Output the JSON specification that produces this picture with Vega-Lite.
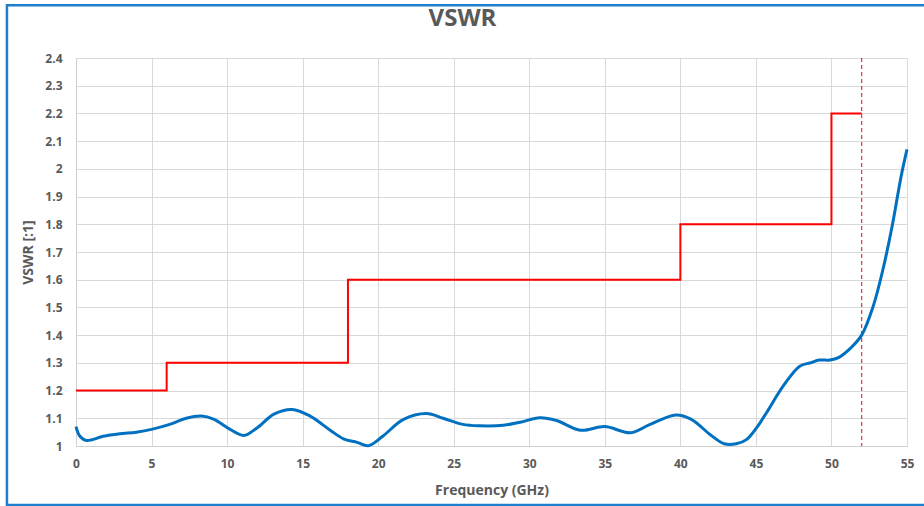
{
  "$schema": "https://vega.github.io/schema/vega-lite/v6.json",
  "autosize": "none",
  "width": 831,
  "height": 388,
  "padding": {"left": 76, "top": 58, "right": 17, "bottom": 60},
  "background": "white",
  "title": {"text": "VSWR", "fontSize": 24, "font": "Open Sans", "fontWeight": "bold", "color": "#595959", "anchor": "middle", "dx": -29, "offset": -27},
  "config": {
    "view": {"stroke": null},
    "axis": {"labelFont": "Open Sans", "labelFontWeight": "bold", "labelColor": "#595959", "labelFontSize": 12, "titleFont": "Open Sans", "titleFontWeight": "bold", "titleColor": "#595959", "titleFontSize": 14, "gridColor": "#d9d9d9", "gridWidth": 1, "domainColor": "#d0d0d0", "ticks": false, "labelOverlap": false, "labelFlush": false}
  },
  "datasets": {
    "measured": [
      {"f": 0, "v": 1.07}, {"f": 0.26, "v": 1.035}, {"f": 0.7, "v": 1.02}, {"f": 1.8, "v": 1.035}, {"f": 2.9, "v": 1.044},
      {"f": 4.0, "v": 1.05}, {"f": 5.0, "v": 1.06}, {"f": 6.2, "v": 1.078}, {"f": 7.3, "v": 1.1}, {"f": 8.3, "v": 1.108},
      {"f": 9.1, "v": 1.097}, {"f": 10.2, "v": 1.06}, {"f": 11.1, "v": 1.038}, {"f": 12.0, "v": 1.066}, {"f": 13.1, "v": 1.115},
      {"f": 14.3, "v": 1.132}, {"f": 15.5, "v": 1.108}, {"f": 16.8, "v": 1.058}, {"f": 17.7, "v": 1.026}, {"f": 18.6, "v": 1.013},
      {"f": 19.35, "v": 1.001}, {"f": 20.3, "v": 1.035}, {"f": 21.65, "v": 1.095}, {"f": 23.2, "v": 1.117}, {"f": 24.3, "v": 1.1},
      {"f": 25.6, "v": 1.078}, {"f": 26.7, "v": 1.073}, {"f": 28.3, "v": 1.075}, {"f": 29.4, "v": 1.086}, {"f": 30.7, "v": 1.102},
      {"f": 31.8, "v": 1.092}, {"f": 33.4, "v": 1.057}, {"f": 35.0, "v": 1.07}, {"f": 36.7, "v": 1.048}, {"f": 38.0, "v": 1.078},
      {"f": 39.7, "v": 1.112}, {"f": 40.7, "v": 1.097}, {"f": 42.0, "v": 1.04}, {"f": 42.9, "v": 1.008}, {"f": 43.7, "v": 1.008},
      {"f": 44.4, "v": 1.024}, {"f": 45.05, "v": 1.066}, {"f": 45.7, "v": 1.12}, {"f": 46.8, "v": 1.216}, {"f": 47.9, "v": 1.288},
      {"f": 48.6, "v": 1.3}, {"f": 49.2, "v": 1.31}, {"f": 49.9, "v": 1.31}, {"f": 50.5, "v": 1.32}, {"f": 51.3, "v": 1.355},
      {"f": 52.0, "v": 1.4}, {"f": 52.75, "v": 1.502}, {"f": 53.4, "v": 1.635}, {"f": 54.05, "v": 1.803}, {"f": 54.6, "v": 1.97},
      {"f": 55.0, "v": 2.07}
    ],
    "limit": [
      {"f": 0, "v": 1.2}, {"f": 6, "v": 1.3}, {"f": 18, "v": 1.6}, {"f": 40, "v": 1.8}, {"f": 50, "v": 2.2}, {"f": 52, "v": 2.2}
    ],
    "marker": [{"f": 52}]
  },
  "layer": [
    {
      "data": {"name": "limit"},
      "mark": {"type": "line", "interpolate": "step-after", "color": "#ff0000", "strokeWidth": 2},
      "encoding": {
        "x": {"field": "f", "type": "quantitative", "scale": {"domain": [0, 55], "nice": false}, "axis": {"values": [0,5,10,15,20,25,30,35,40,45,50,55], "tickCount": 40, "title": "Frequency (GHz)", "labelPadding": 12, "titlePadding": 14}},
        "y": {"field": "v", "type": "quantitative", "scale": {"domain": [1, 2.4], "nice": false, "zero": false}, "axis": {"values": [1,1.1,1.2,1.3,1.4,1.5,1.6,1.7,1.8,1.9,2,2.1,2.2,2.3,2.4], "tickCount": 40, "format": ".2~f", "title": "VSWR [:1]", "labelPadding": 14, "titlePadding": 9}}
      }
    },
    {
      "data": {"name": "marker"},
      "mark": {"type": "rule", "color": "#e5303a", "strokeWidth": 1.2, "strokeDash": [4, 3]},
      "encoding": {"x": {"field": "f", "type": "quantitative"}}
    },
    {
      "data": {"name": "measured"},
      "mark": {"type": "line", "interpolate": "catmull-rom", "color": "#0070c0", "strokeWidth": 3},
      "encoding": {
        "x": {"field": "f", "type": "quantitative"},
        "y": {"field": "v", "type": "quantitative"}
      }
    },
    {
      "data": {"values": [{}]},
      "mark": {"type": "rect", "fill": null, "stroke": "#1f7fcf", "strokeWidth": 2.5, "clip": false},
      "encoding": {
        "x": {"datum": -4.57},
        "x2": {"datum": 56.5},
        "y": {"datum": 2.59},
        "y2": {"datum": 0.787}
      }
    }
  ]
}
